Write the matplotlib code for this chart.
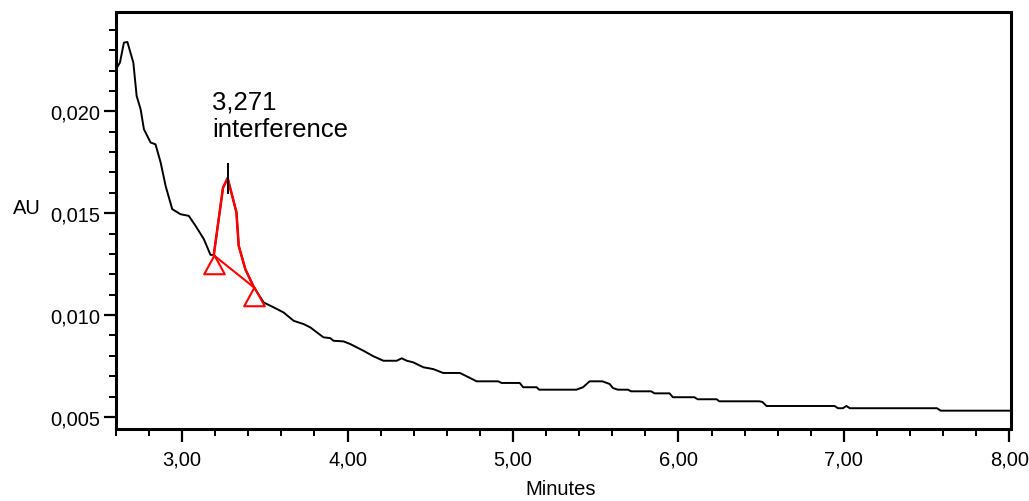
import matplotlib.pyplot as plt
import numpy as np
from matplotlib.path import Path
from matplotlib.ticker import FuncFormatter, MultipleLocator

plt.rcParams['font.family'] = ['Liberation Sans', 'DejaVu Sans']

# chromatogram trace (minutes, AU)
minutes = [2.600, 2.624, 2.648, 2.669, 2.705, 2.725, 2.749, 2.769, 2.809, 2.839,
           2.870, 2.900, 2.940, 2.990, 3.040, 3.081, 3.131, 3.171, 3.191, 3.247,
           3.275, 3.328, 3.342, 3.382, 3.434, 3.493, 3.553, 3.613, 3.674, 3.734,
           3.774, 3.854, 3.895, 3.915, 3.975, 4.016, 4.096, 4.156, 4.216, 4.297,
           4.327, 4.358, 4.397, 4.458, 4.518, 4.578, 4.679, 4.719, 4.780, 4.910,
           4.931, 5.041, 5.061, 5.142, 5.158, 5.383, 5.423, 5.463, 5.540, 5.584,
           5.604, 5.634, 5.694, 5.714, 5.835, 5.855, 5.946, 5.966, 6.096, 6.116,
           6.231, 6.247, 6.488, 6.507, 6.532, 6.944, 6.964, 6.994, 7.015, 7.036,
           7.562, 7.586, 8.010]
au = [0.02206, 0.02239, 0.02337, 0.02340, 0.02239, 0.02075, 0.02010, 0.01912, 0.01847, 0.01838,
      0.01749, 0.01634, 0.01520, 0.01495, 0.01487, 0.01438, 0.01373, 0.01296, 0.01294, 0.01625,
      0.01672, 0.01505, 0.01340, 0.01225, 0.01136, 0.01062, 0.01038, 0.01013, 0.00972, 0.00956,
      0.00940, 0.00891, 0.00887, 0.00874, 0.00871, 0.00858, 0.00825, 0.00798, 0.00776, 0.00776,
      0.00788, 0.00776, 0.00768, 0.00744, 0.00735, 0.00716, 0.00716, 0.00700, 0.00675, 0.00675,
      0.00667, 0.00667, 0.00646, 0.00646, 0.00634, 0.00634, 0.00646, 0.00675, 0.00675, 0.00662,
      0.00642, 0.00634, 0.00634, 0.00626, 0.00626, 0.00616, 0.00616, 0.00597, 0.00597, 0.00587,
      0.00587, 0.00577, 0.00577, 0.00574, 0.00554, 0.00554, 0.00543, 0.00543, 0.00554, 0.00543,
      0.00543, 0.00531, 0.00531]

# integrated peak
peak_t = [3.191, 3.247, 3.275, 3.328, 3.342, 3.382, 3.434]
peak_au = [0.01294, 0.01625, 0.01672, 0.01505, 0.01340, 0.01225, 0.01136]
baseline_t = [3.191, 3.434]
baseline_au = [0.01294, 0.01136]
apex_t = 3.275
apex_label = "3,271\ninterference"

fig = plt.figure(figsize=(10.29, 5.02), dpi=100)
ax = fig.add_axes([0.1127, 0.1434, 0.8698, 0.8306])

ax.plot(minutes, au, color='black', lw=1.4)
ax.plot(peak_t, peak_au, color='red', lw=1.8)
ax.plot(baseline_t, baseline_au, color='red', lw=1.5)

# triangle markers hang below the baseline points
tri = Path([(0, 0), (-0.55, -1), (0.55, -1), (0, 0)],
           [Path.MOVETO, Path.LINETO, Path.LINETO, Path.CLOSEPOLY])
ax.plot(baseline_t, baseline_au, ls='none', marker=tri, ms=27,
        mfc='none', mec='red', mew=1.5)

ax.vlines(apex_t, 0.01593, 0.01745, color='black', lw=1.4)
ax.text(3.18, 0.0198, apex_label, fontsize=18.5, va='center', ha='left', linespacing=1.15)

ax.set_xlim(2.6, 8.01)
ax.set_ylim(0.00441, 0.02487)

ax.xaxis.set_major_locator(MultipleLocator(1.0))
ax.xaxis.set_minor_locator(MultipleLocator(0.2))
ax.yaxis.set_major_locator(MultipleLocator(0.005))
ax.yaxis.set_minor_locator(MultipleLocator(0.001))
ax.xaxis.set_major_formatter(FuncFormatter(lambda v, p: f"{v:.2f}".replace('.', ',')))
ax.yaxis.set_major_formatter(FuncFormatter(lambda v, p: f"{v:.3f}".replace('.', ',')))

ax.tick_params(which='major', direction='out', length=9, width=1.6, labelsize=14.5, pad=2)
ax.tick_params(which='minor', direction='out', length=5, width=1.4)
ax.tick_params(axis='x', which='major', pad=6)

for s in ax.spines.values():
    s.set_linewidth(2.2)

ax.set_xlabel("Minutes", fontsize=14.5, va='center')
ax.set_ylabel("AU", fontsize=14.5, rotation=0, va='center', ha='center')
ax.xaxis.set_label_coords(0.497, -0.142)
ax.yaxis.set_label_coords(-0.100, 0.532)

fig.savefig("out.png", dpi=100)
